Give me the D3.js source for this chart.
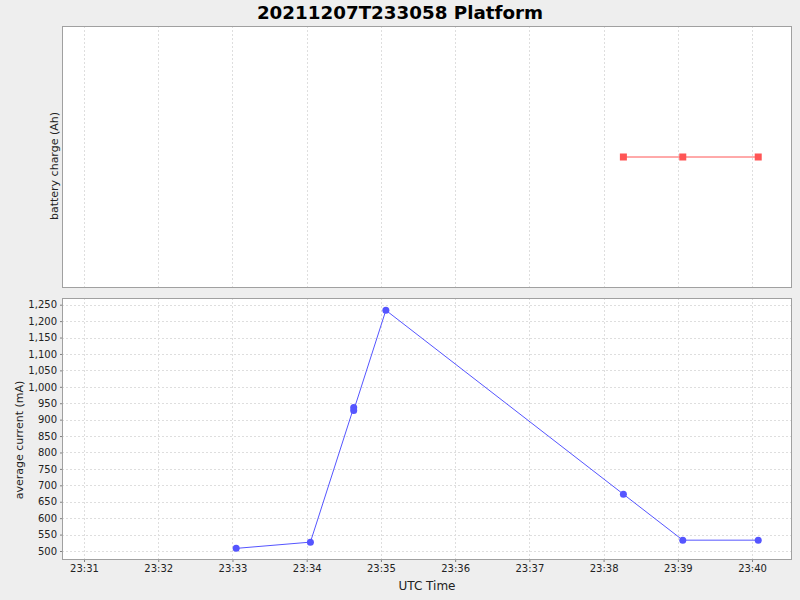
<!DOCTYPE html>
<html><head><meta charset="utf-8">
<script src="https://cdn.jsdelivr.net/npm/d3@7"></script>
<style>body{margin:0;background:#eeeeee;} svg{display:block;font-family:"DejaVu Sans",sans-serif;}</style>
</head><body>
<svg id="c" width="800" height="600"></svg>
<script>
// Data
const currentTimes = ["23:33:03","23:34:03","23:34:38","23:34:38","23:35:04","23:38:16","23:39:04","23:40:05"];
const currentValues = [508, 527, 937, 928, 1233, 673, 533, 533];
const chargeTimes = ["23:38:16","23:39:04","23:40:05"];
const chargeValues = [0, 0, 0];
const xTickLabels = ["23:31","23:32","23:33","23:34","23:35","23:36","23:37","23:38","23:39","23:40"];
const yTicks = [500,550,600,650,700,750,800,850,900,950,1000,1050,1100,1150,1200,1250];
const title = "20211207T233058 Platform";

const day = "2021-12-07T";
const parseT = s => new Date(day + s + "Z");

const svg = d3.select("#c");
const L = 62, R = 792;
const top1 = 26, bot1 = 288, top2 = 298, bot2 = 560;

const x = d3.scaleUtc()
  .domain([new Date(day + "23:30:42.2Z"), new Date(day + "23:40:32.3Z")])
  .range([L, R]);
const yC = d3.scaleLinear().domain([472.6, 1270.4]).range([bot2, top2]);
const yQ = d3.scaleLinear().domain([-1, 1]).range([bot1, top1]);

const xTickDates = xTickLabels.map(s => parseT(s + ":00"));

// Title
svg.append("text").attr("x", 400).attr("y", 18.5).attr("text-anchor", "middle")
  .attr("font-size", 18.3).attr("font-weight", "bold").attr("fill", "#000").text(title);

function panel(t, b) {
  svg.append("rect").attr("x", L).attr("y", t).attr("width", R - L).attr("height", b - t).attr("fill", "#fff");
}
panel(top1, bot1); panel(top2, bot2);

// vertical gridlines
[[top1, bot1], [top2, bot2]].forEach(([t, b]) => {
  svg.append("g").selectAll("line").data(xTickDates).join("line")
    .attr("x1", d => Math.round(x(d)) + 0.5).attr("x2", d => Math.round(x(d)) + 0.5)
    .attr("y1", t).attr("y2", b)
    .attr("stroke", "#dedede").attr("stroke-width", 1).attr("stroke-dasharray", "2,2");
});
// horizontal gridlines bottom
svg.append("g").selectAll("line").data(yTicks).join("line")
  .attr("x1", L).attr("x2", R)
  .attr("y1", d => Math.round(yC(d)) + 0.5).attr("y2", d => Math.round(yC(d)) + 0.5)
  .attr("stroke", "#dedede").attr("stroke-width", 1).attr("stroke-dasharray", "2,2");

// outlines
[[top1, bot1], [top2, bot2]].forEach(([t, b]) => {
  svg.append("rect").attr("x", L + 0.5).attr("y", t + 0.5).attr("width", R - L - 1).attr("height", b - t - 1)
    .attr("fill", "none").attr("stroke", "#a0a0a0").attr("stroke-width", 1);
});

// Y axis bottom
const yAxis = d3.axisLeft(yC).tickValues(yTicks).tickFormat(d3.format(",")).tickSize(2).tickPadding(3);
const gy = svg.append("g").attr("transform", `translate(${L},0)`).call(yAxis);
gy.select(".domain").remove();
gy.selectAll("line").attr("stroke", "#808080");
gy.selectAll("text").attr("font-size", 10).attr("fill", "#222").attr("font-family", "DejaVu Sans");

// X axis
const xAxis = d3.axisBottom(x).tickValues(xTickDates).tickFormat(d3.utcFormat("%H:%M")).tickSize(2).tickPadding(3);
const gx = svg.append("g").attr("transform", `translate(0,${bot2})`).call(xAxis);
gx.select(".domain").remove();
gx.selectAll("line").attr("stroke", "#808080");
gx.selectAll("text").attr("font-size", 10).attr("fill", "#222").attr("font-family", "DejaVu Sans");

// axis labels
svg.append("text").attr("x", 427).attr("y", 590).attr("text-anchor", "middle").attr("font-size", 12).attr("fill", "#222").text("UTC Time");
svg.append("text").attr("transform", "translate(57.5,166) rotate(-90)").attr("text-anchor", "middle").attr("font-size", 11).attr("fill", "#222").text("battery charge (Ah)");
svg.append("text").attr("transform", "translate(22.5,440) rotate(-90)").attr("text-anchor", "middle").attr("font-size", 11).attr("fill", "#222").text("average current (mA)");

// Series: current
const cur = currentTimes.map((t, i) => ({t: parseT(t), v: currentValues[i]}));
svg.append("path").datum(cur)
  .attr("d", d3.line().x(d => x(d.t)).y(d => yC(d.v)))
  .attr("fill", "none").attr("stroke", "#5555ff").attr("stroke-width", 1);
svg.append("g").selectAll("circle").data(cur).join("circle")
  .attr("cx", d => x(d.t)).attr("cy", d => yC(d.v)).attr("r", 3.5).attr("fill", "#5555ff");

// Series: charge
const chg = chargeTimes.map((t, i) => ({t: parseT(t), v: chargeValues[i]}));
svg.append("path").datum(chg)
  .attr("d", d3.line().x(d => x(d.t)).y(d => yQ(d.v)))
  .attr("fill", "none").attr("stroke", "#ff5555").attr("stroke-width", 1);
svg.append("g").selectAll("rect").data(chg).join("rect")
  .attr("x", d => x(d.t) - 3.5).attr("y", d => yQ(d.v) - 3.5).attr("width", 7).attr("height", 7).attr("fill", "#ff5555");
</script>
</body></html>
